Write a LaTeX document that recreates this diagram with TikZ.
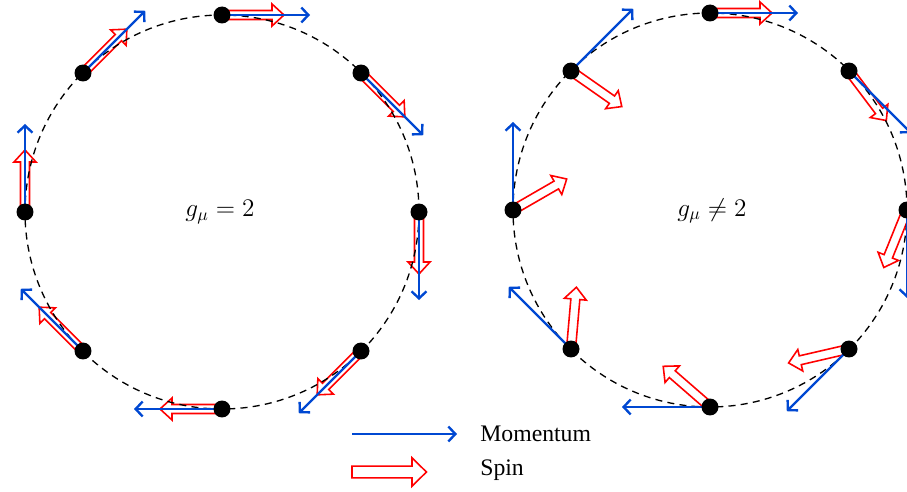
\documentclass[tikz,border=0pt]{standalone}
\usepackage{fontspec}
\setmainfont{Liberation Serif}
\usetikzlibrary{arrows.meta,backgrounds}
\definecolor{momblue}{RGB}{0,72,210}
\definecolor{spinred}{RGB}{255,0,0}

\begin{document}
\begin{tikzpicture}[x=0.02cm, y=0.02cm,
      orbit/.style={draw, dash pattern=on 4pt off 3pt, line width=0.75pt},
      dot/.style={circle, fill=black, inner sep=0pt, minimum size=0.34cm},
      momentum/.style={draw=momblue, line width=1.35pt, -{Straight Barb[length=4pt,width=8.5pt]}},
      spinline/.style={draw=spinred, fill=white, line width=0.9pt, line join=miter},
      spinarrow/.pic={\path[spinline] (0,-4.5) -- (50,-4.5) -- (50,-11) -- (62,0) -- (50,11) -- (50,4.5) -- (0,4.5) -- cycle;},
      gtext/.style={font=\Large},
      keytext/.style={anchor=west, inner sep=0pt, font=\fontsize{13.5}{16}\selectfont}
    ]
    \useasboundingbox (0,0) rectangle (907,491);

    % g = 2 (left orbit)
    \node[dot] (l1) at (222,476) {};
    \node[dot] (l2) at (361,418) {};
    \node[dot] (l3) at (419,279) {};
    \node[dot] (l4) at (361,140) {};
    \node[dot] (l5) at (222,82) {};
    \node[dot] (l6) at (83,140) {};
    \node[dot] (l7) at (25,279) {};
    \node[dot] (l8) at (83,418) {};
    \node[gtext] (gleft) at (220,279) {$g_\mu = 2$};

    % g != 2 (right orbit)
    \node[dot] (r1) at (710,478) {};
    \node[dot] (r2) at (849,420) {};
    \node[dot] (r3) at (907,281) {};
    \node[dot] (r4) at (849,142) {};
    \node[dot] (r5) at (710,84) {};
    \node[dot] (r6) at (571,142) {};
    \node[dot] (r7) at (513,281) {};
    \node[dot] (r8) at (571,420) {};
    \node[gtext] (gright) at (712,280) {$g_\mu \neq 2$};

    \begin{scope}[on background layer]
      \pic[rotate=0] at (l1) {spinarrow};
      \pic[rotate=-45] at (l2) {spinarrow};
      \pic[rotate=-90] at (l3) {spinarrow};
      \pic[rotate=-135] at (l4) {spinarrow};
      \pic[rotate=180] at (l5) {spinarrow};
      \pic[rotate=135] at (l6) {spinarrow};
      \pic[rotate=90] at (l7) {spinarrow};
      \pic[rotate=45] at (l8) {spinarrow};

      \pic[rotate=0] at (r1) {spinarrow};
      \pic[rotate=-53] at (r2) {spinarrow};
      \pic[rotate=-112] at (r3) {spinarrow};
      \pic[rotate=-167] at (r4) {spinarrow};
      \pic[rotate=139] at (r5) {spinarrow};
      \pic[rotate=85] at (r6) {spinarrow};
      \pic[rotate=30] at (r7) {spinarrow};
      \pic[rotate=-35] at (r8) {spinarrow};

      \draw[orbit] (222,279) circle[radius=197];
      \draw[orbit] (710,281) circle[radius=197];

      \draw[momentum] (l1.center) -- ++(0:88);
      \draw[momentum] (l2.center) -- ++(-45:88);
      \draw[momentum] (l3.center) -- ++(-90:88);
      \draw[momentum] (l4.center) -- ++(-135:88);
      \draw[momentum] (l5.center) -- ++(180:88);
      \draw[momentum] (l6.center) -- ++(135:88);
      \draw[momentum] (l7.center) -- ++(90:88);
      \draw[momentum] (l8.center) -- ++(45:88);

      \draw[momentum] (r1.center) -- ++(0:88);
      \draw[momentum] (r2.center) -- ++(-45:88);
      \draw[momentum] (r3.center) -- ++(-90:88);
      \draw[momentum] (r4.center) -- ++(-135:88);
      \draw[momentum] (r5.center) -- ++(180:88);
      \draw[momentum] (r6.center) -- ++(135:88);
      \draw[momentum] (r7.center) -- ++(90:88);
      \draw[momentum] (r8.center) -- ++(45:88);
    \end{scope}

    % key
    \coordinate (momkey) at (352,57);
    \coordinate (spinkey) at (352,19);
    \draw[momentum] (momkey) -- ++(105,0);
    \pic[xscale=1.2, yscale=1.3] at (spinkey) {spinarrow};
    \node[keytext] (momtext) at (480,57) {Momentum};
    \node[keytext] (spintext) at (480,21) {Spin};
  \end{tikzpicture}
\end{document}
